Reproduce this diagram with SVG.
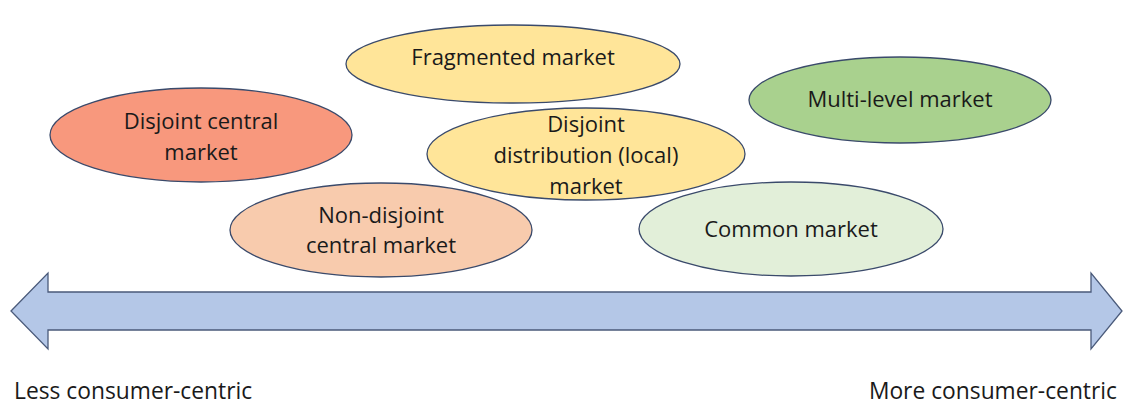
<svg xmlns="http://www.w3.org/2000/svg" width="1123" height="405" viewBox="0 0 1123 405">
<style>
.n{stroke:#3A4A6B;stroke-width:1.3}
.t{font-family:"Open Sans","Liberation Sans",sans-serif;font-size:22px;fill:#1a1a1a;text-anchor:middle}
.b{font-family:"Open Sans","Liberation Sans",sans-serif;font-size:22.8px;fill:#1a1a1a}
</style>
<rect width="1123" height="405" fill="#fff"/>
<g id="connectors">
<path d="M11,311 L48,273 L48,292 L1091,292 L1091,273 L1122,311 L1091,349 L1091,330 L48,330 L48,349 Z" fill="#B4C7E7" stroke="#4A5A7A" stroke-width="1.3"/>
</g>
<g id="fragmented"><ellipse class="n" cx="513" cy="64" rx="167" ry="39" fill="#FFE599"/><text class="t" x="513" y="65">Fragmented market</text></g>
<g id="multilevel"><ellipse class="n" cx="900" cy="100" rx="151" ry="43" fill="#A9D18E"/><text class="t" x="900" y="107">Multi-level market</text></g>
<g id="disjointcentral"><ellipse class="n" cx="201" cy="135" rx="151" ry="47" fill="#F8987D"/><text class="t" x="201" y="129">Disjoint central</text><text class="t" x="201" y="160">market</text></g>
<g id="disjointdistribution"><ellipse class="n" cx="586" cy="154" rx="159" ry="46" fill="#FFE599"/><text class="t" x="586" y="132">Disjoint</text><text class="t" x="586" y="163">distribution (local)</text><text class="t" x="586" y="194">market</text></g>
<g id="nondisjoint"><ellipse class="n" cx="381" cy="230" rx="151" ry="47" fill="#F8CBAD"/><text class="t" x="381" y="223">Non-disjoint</text><text class="t" x="381" y="253">central market</text></g>
<g id="common"><ellipse class="n" cx="791" cy="229" rx="152" ry="47" fill="#E2EFD9"/><text class="t" x="791" y="237">Common market</text></g>
<text class="b" x="14" y="399">Less consumer-centric</text>
<text class="b" x="1117" y="399" text-anchor="end">More consumer-centric</text>
</svg>
